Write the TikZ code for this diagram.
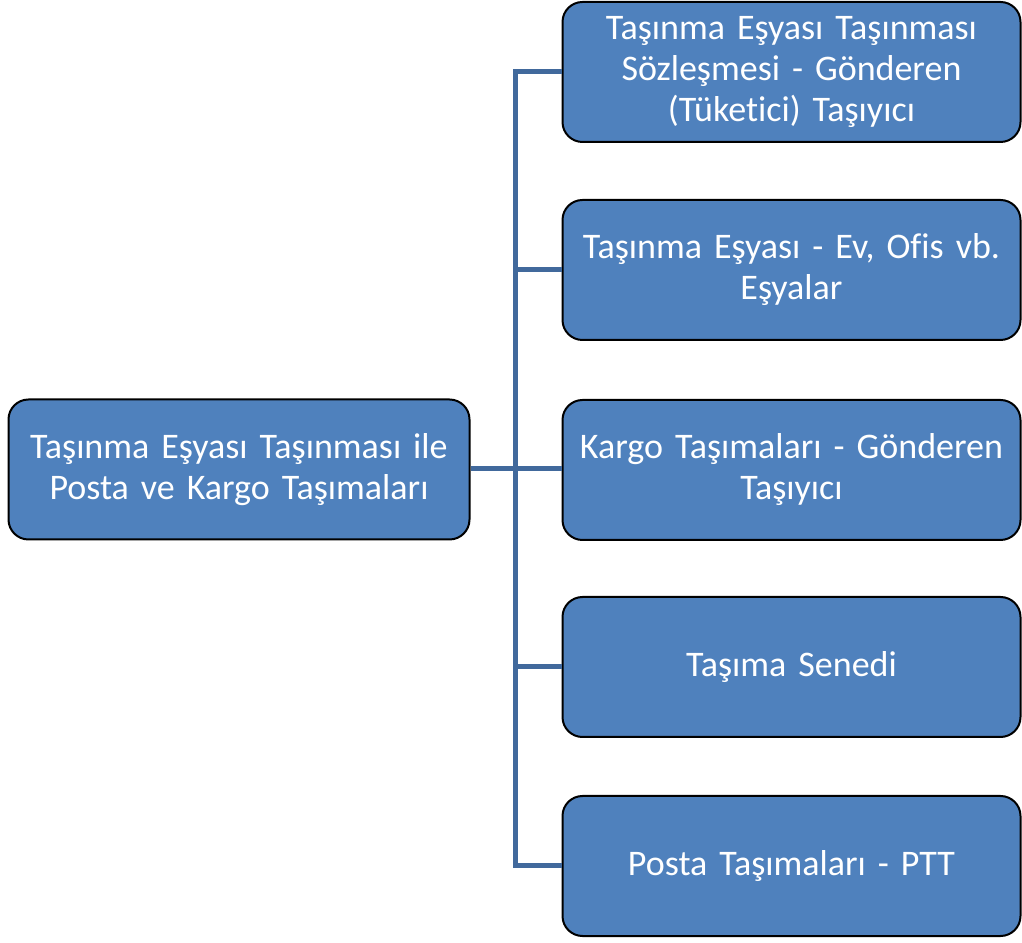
\documentclass[tikz,border=0pt]{standalone}
\usepackage{fontspec}
\setmainfont{Carlito}[Ligatures=NoCommon,WordSpace=0.85]
\definecolor{boxfill}{HTML}{4F81BD}
\definecolor{linkcol}{HTML}{41699C}
\begin{document}
\begin{tikzpicture}[x=1pt,y=1pt,
  item/.style={draw=black, line width=2pt, fill=boxfill, rounded corners=20pt,
    minimum height=140pt, text=white, align=center, inner sep=2pt,
    font=\fontsize{36}{41}\selectfont},
  leaf/.style={item, minimum width=458pt, text width=452pt},
  link/.style={draw=linkcol, line width=5pt}]
\useasboundingbox (0,0) rectangle (1022,942);
\coordinate (trunk) at (515,473);
% boxes
\node[item, minimum width=461pt, text width=455pt] (root) at (239,472.5) {Taşınma Eşyası Taşınması ile\\Posta ve Kargo Taşımaları};
\node[leaf] (a) at (791.5,870) {Taşınma Eşyası Taşınması\\Sözleşmesi - Gönderen\\(Tüketici) Taşıyıcı};
\node[leaf] (b) at (791.5,672) {Taşınma Eşyası - Ev, Ofis vb.\\Eşyalar};
\node[leaf] (c) at (791.5,472) {Kargo Taşımaları - Gönderen\\Taşıyıcı};
\node[leaf] (d) at (791.5,275) {Taşıma Senedi};
\node[leaf] (e) at (791.5,76) {Posta Taşımaları - PTT};
% tree connectors
\draw[link] (root.east |- trunk) -- (trunk);
\draw[link] (a.west) -- (a.west -| trunk) -- (e.west -| trunk) -- (e.west);
\draw[link] (b.west) -- (b.west -| trunk);
\draw[link] (c.west |- trunk) -- (trunk);
\draw[link] (d.west) -- (d.west -| trunk);
\end{tikzpicture}
\end{document}
